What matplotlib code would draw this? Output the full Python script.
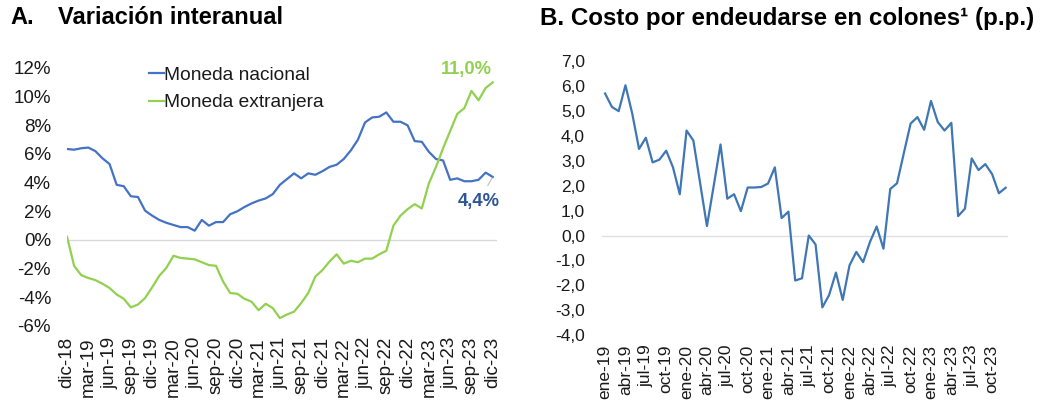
import matplotlib
matplotlib.use("Agg")
import matplotlib.pyplot as plt
from matplotlib.ticker import FuncFormatter

plt.rcParams['font.family'] = ['Liberation Sans', 'DejaVu Sans']

# ---- panel A data: monthly, dic-18 .. dic-23 ----
months_a = ['dic-18', 'mar-19', 'jun-19', 'sep-19', 'dic-19', 'mar-20', 'jun-20', 'sep-20',
            'dic-20', 'mar-21', 'jun-21', 'sep-21', 'dic-21', 'mar-22', 'jun-22', 'sep-22',
            'dic-22', 'mar-23', 'jun-23', 'sep-23', 'dic-23']
nacional = [6.35, 6.3, 6.4, 6.45, 6.2, 5.7, 5.3, 3.85, 3.75, 3.05, 3.0, 2.05, 1.7, 1.4, 1.2,
            1.05, 0.9, 0.9, 0.65, 1.4, 1.0, 1.25, 1.25, 1.8, 2.0, 2.3, 2.55, 2.75, 2.9, 3.2,
            3.85, 4.25, 4.65, 4.3, 4.65, 4.55, 4.8, 5.1, 5.25, 5.65, 6.25, 7.0, 8.2, 8.55, 8.6,
            8.9, 8.25, 8.25, 8.0, 6.9, 6.85, 6.15, 5.65, 5.55, 4.2, 4.3, 4.1, 4.1, 4.2, 4.7, 4.4]
extranjera = [0.23, -1.8, -2.45, -2.65, -2.8, -3.05, -3.35, -3.8, -4.1, -4.7, -4.5, -4.05,
              -3.3, -2.5, -1.95, -1.1, -1.25, -1.3, -1.35, -1.55, -1.75, -1.8, -2.9, -3.7,
              -3.75, -4.1, -4.3, -4.9, -4.45, -4.75, -5.45, -5.2, -5.0, -4.4, -3.7, -2.55,
              -2.1, -1.5, -1.0, -1.65, -1.45, -1.55, -1.3, -1.3, -1.0, -0.75, 1.0, 1.7, 2.15,
              2.5, 2.2, 3.95, 5.1, 6.4, 7.6, 8.8, 9.2, 10.4, 9.75, 10.6, 11.0]

# ---- panel B data: monthly, ene-19 .. dic-23 ----
months_b = ['ene-19', 'abr-19', 'jul-19', 'oct-19', 'ene-20', 'abr-20', 'jul-20', 'oct-20',
            'ene-21', 'abr-21', 'jul-21', 'oct-21', 'ene-22', 'abr-22', 'jul-22', 'oct-22',
            'ene-23', 'abr-23', 'jul-23', 'oct-23']
costo = [5.71, 5.17, 5.0, 6.04, 4.9, 3.48, 3.93, 2.94, 3.05, 3.41, 2.74, 1.66, 4.22, 3.82,
         2.1, 0.38, 2.0, 3.66, 1.48, 1.66, 0.98, 1.93, 1.93, 1.95, 2.09, 2.74, 0.7, 0.96,
         -1.81, -1.72, 0.0, -0.36, -2.89, -2.39, -1.49, -2.59, -1.2, -0.66, -1.07, -0.27,
         0.36, -0.53, 1.87, 2.1, 3.31, 4.5, 4.76, 4.25, 5.41, 4.56, 4.22, 4.53, 0.78, 1.08,
         3.1, 2.63, 2.87, 2.47, 1.7, 1.92]

W, H = 1042, 401
fig = plt.figure(figsize=(W / 100, H / 100), dpi=100)

def px_axes(x0, y0, x1, y1):
    return fig.add_axes([x0 / W, 1 - y1 / H, (x1 - x0) / W, (y1 - y0) / H])

txt = '#1a1a1a'
blue = '#4472C4'
green = '#92D050'

# ----------------- panel A -----------------
ax = px_axes(67, 68, 497, 326)
xa = list(range(len(nacional)))
ax.axhline(0, color='#d9d9d9', lw=1, zorder=1)
ax.plot(xa, nacional, color=blue, lw=1.6, label='Moneda nacional', zorder=3)
ax.plot(xa, extranjera, color=green, lw=1.6, label='Moneda extranjera', zorder=3)
ax.set_xlim(0, 60.6)
ax.set_ylim(-6, 12)
ax.set_yticks(range(-6, 13, 2))
ax.yaxis.set_major_formatter(FuncFormatter(lambda v, p: '%d%%' % v))
ax.set_xticks(range(0, 61, 3))
ax.set_xticklabels(months_a, rotation=90)
for s in ax.spines.values():
    s.set_visible(False)
ax.tick_params(length=0, labelsize=13.5, colors=txt)
ax.tick_params(axis='x', pad=8)
ax.tick_params(axis='y', pad=11.5)
leg = ax.legend(loc='upper left', bbox_to_anchor=(0.172, 1.035), frameon=False,
                fontsize=13.8, handlelength=0.8, handletextpad=0.0, labelspacing=0.52,
                borderaxespad=0)
for t in leg.get_texts():
    t.set_color(txt)
ax.annotate('11,0%', xy=(60, extranjera[-1]), xytext=(-19, 9), textcoords='offset points',
            color=green, fontsize=13.2, fontweight='bold', ha='center', va='center')
ax.annotate('4,4%', xy=(60, nacional[-1]), xytext=(-10.3, -17.8), textcoords='offset points',
            color='#2F5597', fontsize=13.2, fontweight='bold', ha='center', va='center',
            arrowprops=dict(arrowstyle='-', color='#bfbfbf', lw=0.8,
                            shrinkA=4, shrinkB=1))

fig.text(10 / W, 1 - 18 / H, 'A.', fontsize=17, fontweight='bold', color='black',
         va='center', ha='left')
fig.text(58 / W, 1 - 18 / H, 'Variación interanual', fontsize=17, fontweight='bold',
         color='black', va='center', ha='left')

# ----------------- panel B -----------------
bx = px_axes(601.7, 61.4, 1007.7, 335)
xb = list(range(len(costo)))
bx.axhline(0, color='#e0e0e0', lw=1, zorder=1)
bx.plot(xb, costo, color='#3F77B5', lw=1.6, zorder=3)
bx.set_xlim(-0.5, 59.3)
bx.set_ylim(-4, 7)
bx.set_yticks(range(-4, 8))
bx.yaxis.set_major_formatter(FuncFormatter(lambda v, p: ('%.1f' % v).replace('.', ',')))
bx.set_xticks(range(0, 60, 3))
bx.set_xticklabels(months_b, rotation=90)
for s in bx.spines.values():
    s.set_visible(False)
bx.tick_params(length=0, labelsize=12.5, colors=txt)
bx.tick_params(axis='x', pad=7)
bx.tick_params(axis='y', pad=12)

fig.text(540 / W, 1 - 18 / H, 'B. Costo por endeudarse en colones¹ (p.p.)', fontsize=17.4,
         fontweight='bold', color='black', va='center', ha='left')

fig.savefig('out.png', dpi=100)
